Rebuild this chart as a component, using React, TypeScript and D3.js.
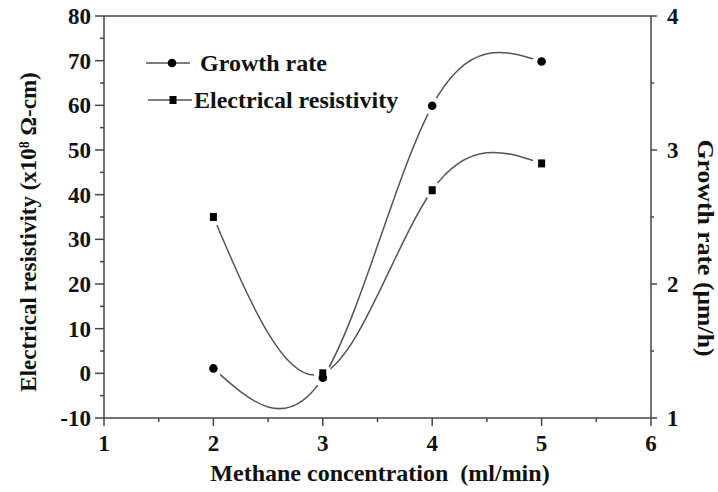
import React from "react";
import * as d3 from "d3";

const concentration = [2, 3, 4, 5];
const growthRate = [1.37, 1.3, 3.33, 3.66];
const resistivity = [35, 0, 41, 47];
const xTicks = [1, 2, 3, 4, 5, 6];
const leftTicks = [-10, 0, 10, 20, 30, 40, 50, 60, 70, 80];
const rightTicks = [1, 2, 3, 4];

const W = 718;
const H = 492;
const FONT = "'Liberation Serif', 'Times New Roman', serif";

export default function App() {
  const x = d3.scaleLinear().domain([1, 6]).range([104, 651]);
  const yL = d3.scaleLinear().domain([-10, 80]).range([418, 16]);
  const yR = d3.scaleLinear().domain([1, 4]).range([418, 16]);

  const growthPts: [number, number][] = concentration.map((c, i) => [x(c), yR(growthRate[i])]);
  const resPts: [number, number][] = concentration.map((c, i) => [x(c), yL(resistivity[i])]);
  const line = d3.line().curve(d3.curveNatural);

  const axisColor = "#444";
  const lineColor = "#555";
  const textColor = "#111";

  const xMinor = d3.range(1.5, 6, 1);
  const leftMinor = d3.range(-5, 80, 10);
  const rightMinor = d3.range(1.5, 4, 1);

  return (
    <svg width={W} height={H} style={{ position: "absolute", left: 0, top: 0, background: "#fff" }}>
      <rect x={0} y={0} width={W} height={H} fill="#fff" />
      {/* curves */}
      <path d={line(growthPts) || ""} fill="none" stroke={lineColor} strokeWidth={1.5} />
      <path d={line(resPts) || ""} fill="none" stroke={lineColor} strokeWidth={1.5} />
      {/* gaps around symbols */}
      {growthPts.map((p, i) => (
        <circle key={"gg" + i} cx={p[0]} cy={p[1]} r={9} fill="#fff" />
      ))}
      {resPts.map((p, i) => (
        <circle key={"gr" + i} cx={p[0]} cy={p[1]} r={9} fill="#fff" />
      ))}
      {growthPts.map((p, i) => (
        <circle key={"mg" + i} cx={p[0]} cy={p[1]} r={4.3} fill="#000" />
      ))}
      {resPts.map((p, i) => (
        <rect key={"mr" + i} x={p[0] - 3.5} y={p[1] - 4} width={7} height={8} fill="#000" />
      ))}

      {/* frame */}
      <line x1={x(1)} x2={x(6)} y1={yL(80)} y2={yL(80)} stroke={axisColor} strokeWidth={1.5} />
      <line x1={x(1)} x2={x(6)} y1={yL(-10)} y2={yL(-10)} stroke={axisColor} strokeWidth={1.5} />
      <line x1={x(1)} x2={x(1)} y1={yL(80)} y2={yL(-10)} stroke={axisColor} strokeWidth={1.5} />
      <line x1={x(6)} x2={x(6)} y1={yL(80)} y2={yL(-10)} stroke={axisColor} strokeWidth={1.5} />

      {/* bottom axis */}
      {xTicks.map((t) => (
        <g key={"xt" + t}>
          <line x1={x(t)} x2={x(t)} y1={418} y2={426} stroke={axisColor} strokeWidth={1.5} />
          <text x={x(t)} y={451} textAnchor="middle" fontFamily={FONT} fontWeight="bold" fontSize={23} fill={textColor}>
            {t}
          </text>
        </g>
      ))}
      {xMinor.map((t) => (
        <line key={"xm" + t} x1={x(t)} x2={x(t)} y1={418} y2={422} stroke={axisColor} strokeWidth={1.5} />
      ))}
      <text
        x={380}
        y={481}
        textAnchor="middle"
        fontFamily={FONT}
        fontWeight="bold"
        fontSize={24}
        fill={textColor}
        style={{ whiteSpace: "pre" }}
      >
        {"Methane concentration  (ml/min)"}
      </text>

      {/* left axis */}
      {leftTicks.map((t) => (
        <g key={"lt" + t}>
          <line x1={95} x2={104} y1={yL(t)} y2={yL(t)} stroke={axisColor} strokeWidth={1.5} />
          <text x={91} y={yL(t) + 8} textAnchor="end" fontFamily={FONT} fontWeight="bold" fontSize={23} fill={textColor}>
            {t}
          </text>
        </g>
      ))}
      {leftMinor.map((t) => (
        <line key={"lm" + t} x1={100} x2={104} y1={yL(t)} y2={yL(t)} stroke={axisColor} strokeWidth={1.5} />
      ))}
      <text
        transform={`translate(36, 232) rotate(-90)`}
        textAnchor="middle"
        fontFamily={FONT}
        fontWeight="bold"
        fontSize={23}
        fill={textColor}
      >
        Electrical resistivity (x10
        <tspan baselineShift="super" fontSize={14}>8</tspan>
        <tspan> Ω-cm)</tspan>
      </text>

      {/* right axis */}
      {rightTicks.map((t) => (
        <g key={"rt" + t}>
          <line x1={651} x2={657} y1={yR(t)} y2={yR(t)} stroke={axisColor} strokeWidth={1.5} />
          <text x={667} y={yR(t) + 8} textAnchor="start" fontFamily={FONT} fontWeight="bold" fontSize={23} fill={textColor}>
            {t}
          </text>
        </g>
      ))}
      {rightMinor.map((t) => (
        <line key={"rm" + t} x1={651} x2={654} y1={yR(t)} y2={yR(t)} stroke={axisColor} strokeWidth={1.5} />
      ))}
      <text
        transform={`translate(698, 248) rotate(90)`}
        textAnchor="middle"
        fontFamily={FONT}
        fontWeight="bold"
        fontSize={23}
        textLength={217}
        lengthAdjust="spacingAndGlyphs"
        fill={textColor}
      >
        Growth rate (μm/h)
      </text>

      {/* legend */}
      <line x1={146} x2={190} y1={63} y2={63} stroke={lineColor} strokeWidth={1.6} />
      <circle cx={172} cy={63} r={4.3} fill="#000" />
      <text x={200} y={71} fontFamily={FONT} fontWeight="bold" fontSize={24} fill={textColor}>
        Growth rate
      </text>
      <line x1={148} x2={192} y1={100} y2={100} stroke={lineColor} strokeWidth={1.6} />
      <rect x={169.5} y={96} width={7} height={8} fill="#000" />
      <text x={194} y={108} fontFamily={FONT} fontWeight="bold" fontSize={24} fill={textColor}>
        Electrical resistivity
      </text>
    </svg>
  );
}
